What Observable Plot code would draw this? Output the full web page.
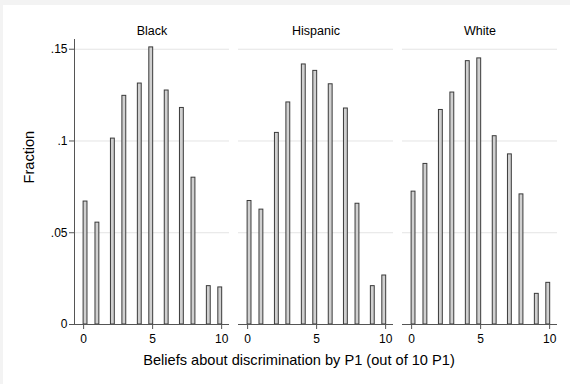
<!DOCTYPE html>
<html>
<head>
<meta charset="utf-8">
<script src="https://cdn.jsdelivr.net/npm/d3@7"></script>
<script src="https://cdn.jsdelivr.net/npm/@observablehq/plot@0.6"></script>
<style>
  html, body { margin: 0; padding: 0; background: #f3f3f3; width: 570px; height: 384px; overflow: hidden; }
  #chart { position: absolute; left: 3px; top: 5px; width: 567px; height: 379px; background: #ffffff; }
  svg { font-family: "Liberation Sans", Arial, Helvetica, sans-serif; }
</style>
</head>
<body>
<div id="chart"></div>
<script>
// ---- data ----
const groups = ["Black", "Hispanic", "White"];
const beliefs = [0, 1, 2, 3, 4, 5, 6, 7, 8, 9, 10];
// histogram bin centres on the x axis (bins do not align exactly with integers)
const binCenters = [0.14, 1.0, 2.12, 2.95, 4.07, 4.9, 6.02, 7.12, 7.96, 9.07, 9.9];
const binWidth = 0.28;
const blackFrac    = [0.0670, 0.0555, 0.1013, 0.1246, 0.1313, 0.1510, 0.1275, 0.1180, 0.0800, 0.0209, 0.0202];
const hispanicFrac = [0.0673, 0.0626, 0.1044, 0.1210, 0.1417, 0.1382, 0.1309, 0.1177, 0.0658, 0.0209, 0.0267];
const whiteFrac    = [0.0724, 0.0875, 0.1169, 0.1264, 0.1435, 0.1450, 0.1026, 0.0927, 0.0709, 0.0167, 0.0227];
const yTicks = [0, 0.05, 0.1, 0.15];
const xTicks = [0, 5, 10];
const xLabel = "Beliefs about discrimination by P1 (out of 10 P1)";
const yLabel = "Fraction";

const series = {Black: blackFrac, Hispanic: hispanicFrac, White: whiteFrac};
const rows = [];
for (const g of groups) {
  beliefs.forEach((b, i) => {
    rows.push({group: g, belief: b, center: binCenters[i], frac: series[g][i]});
  });
}

const xDomain = [-0.66, 10.57];
const fmtY = d => d === 0 ? "0" : String(d).replace(/^0/, "");

const plot = Plot.plot({
  width: 567,
  height: 379,
  marginLeft: 70,
  marginRight: 13,
  marginTop: 34,
  marginBottom: 60,
  style: {fontFamily: "'Liberation Sans', Arial, Helvetica, sans-serif", fontSize: "12px", color: "#000", background: "transparent"},
  fx: {domain: groups, paddingInner: 0.055, paddingOuter: 0, axis: null, label: null},
  x: {domain: xDomain, label: null},
  y: {domain: [0, 0.1553], label: null},
  marks: [
    Plot.gridY(yTicks.filter(d => d > 0), {stroke: "#e4e4e4", strokeOpacity: 1, strokeWidth: 1}),
    Plot.rectY(rows, {
      fx: "group",
      x1: d => d.center - binWidth / 2,
      x2: d => d.center + binWidth / 2,
      y1: 0,
      y2: "frac",
      fill: "#d0d0d0",
      stroke: "#3a3a3a",
      strokeWidth: 1,
      insetLeft: 0, insetRight: 0
    }),
    Plot.ruleY([0], {stroke: "#555", strokeWidth: 1}),
    Plot.ruleX([xDomain[0]], {fx: () => "Black", y1: 0, y2: 0.1553, stroke: "#555", strokeWidth: 1}),
    Plot.axisY({ticks: yTicks, tickFormat: fmtY, tickSize: 5, tickPadding: 2, label: null, stroke: "#555", fontSize: 12}),
    Plot.axisX({ticks: xTicks, tickFormat: d => String(d), tickSize: 5, tickPadding: 5, label: null, stroke: "#555", fontSize: 12}),
    Plot.text(groups, {fx: d => d, text: d => d, frameAnchor: "top", lineAnchor: "middle", dy: -8.5, fontSize: 12.5, fill: "#000"}),
    Plot.text([xLabel], {fx: () => "Hispanic", text: d => d, frameAnchor: "bottom", lineAnchor: "middle", dy: 35.5, dx: -17, fontSize: 14.6, fill: "#000"}),
    Plot.text([yLabel], {fx: () => "Black", text: d => d, frameAnchor: "left", lineAnchor: "middle", dx: -45.5, dy: 1.5, rotate: -90, fontSize: 14.6, fill: "#000"})
  ]
});
document.getElementById("chart").appendChild(plot);
</script>
</body>
</html>
